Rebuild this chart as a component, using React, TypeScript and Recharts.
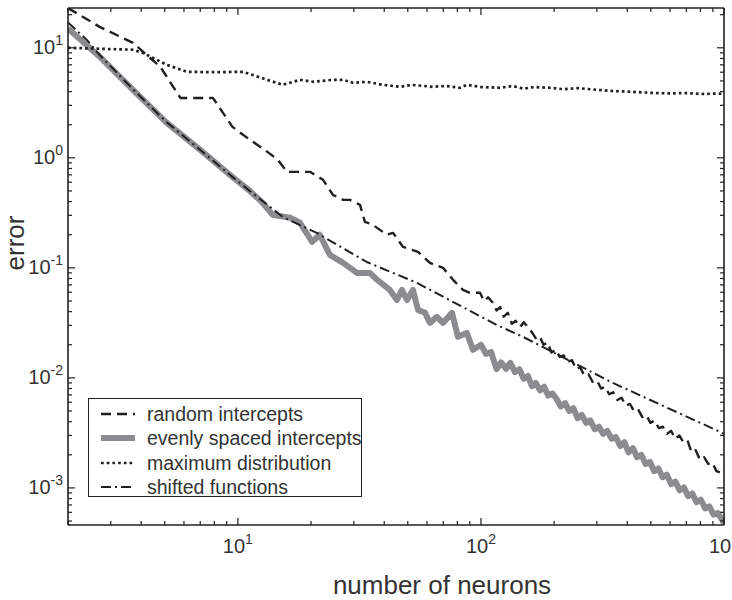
import { Label, Legend, Line, LineChart, XAxis, YAxis } from "recharts";

// [number of neurons, error]
const randomIntercepts: [number, number][] = [
  [2, 23], [2.7, 15.5], [3.7, 11.1], [4.8, 6.7], [5.8, 3.5], [7.9, 3.5], [9.5, 1.91],
  [11.2, 1.46], [12.9, 1.18], [14.6, 0.96], [15.9, 0.746], [19.8, 0.746], [22.4, 0.631],
  [24.6, 0.461], [27.1, 0.415], [28.9, 0.415], [31.8, 0.374], [33.3, 0.262], [35.9, 0.246],
  [41, 0.2], [43.5, 0.208], [47.8, 0.155], [55.1, 0.14], [61.7, 0.111], [69.8, 0.1],
  [76.8, 0.0778], [84.3, 0.0631], [90.1, 0.0593], [99.1, 0.0593], [103, 0.05], [107, 0.054],
  [112, 0.0481], [116, 0.041], [120, 0.044], [124, 0.036], [129, 0.039], [134, 0.031],
  [139, 0.033], [145, 0.029], [150, 0.032], [156, 0.029], [162, 0.026], [168, 0.023],
  [174, 0.024], [181, 0.02], [188, 0.021], [195, 0.017], [203, 0.018], [211, 0.0155],
  [219, 0.016], [228, 0.014], [237, 0.0145], [246, 0.012], [256, 0.0125], [266, 0.0105],
  [277, 0.0108], [288, 0.0092], [300, 0.0095], [312, 0.008], [324, 0.0083], [337, 0.0071],
  [350, 0.0074], [364, 0.0063], [379, 0.0066], [394, 0.0056], [410, 0.0058], [426, 0.005],
  [443, 0.0052], [461, 0.0044], [479, 0.0046], [498, 0.0039], [518, 0.0041], [539, 0.0035],
  [560, 0.0036], [583, 0.0031], [606, 0.0033], [630, 0.0028], [655, 0.003], [681, 0.0026],
  [708, 0.0027], [736, 0.0021], [765, 0.0022], [796, 0.0018], [828, 0.0019], [861, 0.00165],
  [895, 0.0017], [931, 0.00142], [968, 0.00138], [1000, 0.00126],
];

const evenlySpaced: [number, number][] = [
  [2, 15], [2.7, 8.3], [3.7, 4.15], [5.1, 2.08], [7, 1.18], [9.5, 0.67], [11.2, 0.5],
  [12.5, 0.4], [13.9, 0.303], [16.4, 0.285], [18, 0.257], [20.2, 0.172], [21.7, 0.2],
  [23.9, 0.131], [27.1, 0.111], [30.9, 0.09], [34.9, 0.09], [37.3, 0.078], [42.2, 0.063],
  [45.1, 0.051], [47.3, 0.063], [49.6, 0.051], [52.5, 0.063], [55.1, 0.0415], [58.9, 0.039],
  [61.7, 0.0316], [65.9, 0.0359], [69.8, 0.0316], [76, 0.039], [80.4, 0.0236], [87.5, 0.0256],
  [92.7, 0.018], [100, 0.02], [105, 0.0165], [110, 0.0172], [116, 0.012], [121, 0.0138],
  [127, 0.0121], [132, 0.0137], [138, 0.0113], [144, 0.012], [150, 0.0098], [156, 0.0104],
  [162, 0.0084], [168, 0.009], [175, 0.0077], [182, 0.0083], [189, 0.0069], [197, 0.0072],
  [205, 0.0064], [213, 0.0055], [222, 0.0059], [231, 0.005], [240, 0.0053], [250, 0.0043],
  [260, 0.0046], [271, 0.0039], [282, 0.0041], [294, 0.0034], [306, 0.0036], [318, 0.0031],
  [331, 0.0033], [345, 0.0028], [359, 0.0029], [374, 0.0024], [389, 0.0026], [405, 0.0021],
  [422, 0.0023], [439, 0.0019], [457, 0.002], [476, 0.00165], [496, 0.00172], [516, 0.00142],
  [537, 0.0015], [559, 0.00125], [582, 0.00132], [606, 0.00108], [631, 0.00114], [657, 0.00095],
  [684, 0.00101], [712, 0.00084], [741, 0.00089], [771, 0.00074], [803, 0.00078], [836, 0.00065],
  [870, 0.00068], [906, 0.00057], [943, 0.00059], [1000, 0.00048],
];

const maximumDistribution: [number, number][] = [
  [2, 10], [3.7, 9.6], [4.06, 9], [5.1, 7], [6.17, 6.05], [8, 6], [10.5, 6.05], [13.2, 5.12],
  [15.3, 4.61], [18, 5.12], [20.4, 4.91], [24.6, 5.12], [27.1, 5.12], [29.7, 4.81], [34, 4.9],
  [39.5, 4.61], [46.4, 4.42], [52, 4.6], [63.4, 4.42], [72, 4.5], [82, 4.33], [87.5, 4.61],
  [100, 4.4], [120, 4.33], [135, 4.5], [150, 4.25], [165, 4.4], [192, 4.33], [220, 4.2],
  [250, 4.3], [300, 4.15], [350, 4.05], [400, 4], [496, 3.9], [600, 3.85], [700, 3.88],
  [800, 3.8], [900, 3.83], [1000, 3.82],
];

const shiftedFunctions: [number, number][] = [
  [2, 17], [2.39, 11.8], [2.7, 8.6], [3.7, 4.2], [5.1, 2.1], [7, 1.18], [9.5, 0.67],
  [11.2, 0.5], [15.3, 0.29], [21.1, 0.208], [33.9, 0.113], [54.5, 0.0731], [116, 0.0303],
  [149, 0.0236], [349, 0.009], [963, 0.00323], [1000, 0.0031],
];

const X_TICKS = [2, 3, 4, 5, 6, 7, 8, 9, 10, 20, 30, 40, 50, 60, 70, 80, 90, 100, 200, 300, 400, 500, 600, 700, 800, 900, 1000];
const Y_TICKS = [
  0.0005, 0.0006, 0.0007, 0.0008, 0.0009, 0.001, 0.002, 0.003, 0.004, 0.005, 0.006, 0.007, 0.008, 0.009,
  0.01, 0.02, 0.03, 0.04, 0.05, 0.06, 0.07, 0.08, 0.09, 0.1, 0.2, 0.3, 0.4, 0.5, 0.6, 0.7, 0.8, 0.9,
  1, 2, 3, 4, 5, 6, 7, 8, 9, 10, 20,
];

const INK = "#202020";
const TEXT = "#333333";
const FONT = "'Liberation Sans', Arial, sans-serif";

const SERIES = [
  { name: "random intercepts", data: randomIntercepts, stroke: INK, width: 2.4, dash: "10 6" },
  { name: "evenly spaced intercepts", data: evenlySpaced, stroke: "#8b8c90", width: 6, dash: undefined },
  { name: "maximum distribution", data: maximumDistribution, stroke: INK, width: 2.7, dash: "2.7 3" },
  { name: "shifted functions", data: shiftedFunctions, stroke: INK, width: 2, dash: "10 4 2 4" },
];
// gray line drawn first so the dash-dot sits on top of it
const DRAW_ORDER = [1, 0, 2, 3];

const toRows = (pts: [number, number][]) => pts.map(([n, v]) => ({ n, v }));

const isDecade = (v: number) => Math.abs(Math.log10(v) - Math.round(Math.log10(v))) < 1e-6;

function AxisTick(props: any) {
  const { x, y, payload, side, showLabel } = props;
  const v = payload.value;
  const major = isDecade(v);
  const len = major ? 7 : 4;
  const exp = Math.round(Math.log10(v));
  let line;
  if (side === "bottom") line = <line x1={x} y1={y} x2={x} y2={y - len} />;
  else if (side === "top") line = <line x1={x} y1={y} x2={x} y2={y + len} />;
  else if (side === "left") line = <line x1={x} y1={y} x2={x + len} y2={y} />;
  else line = <line x1={x} y1={y} x2={x - len} y2={y} />;

  let label = null;
  if (showLabel && major) {
    const sup = (
      <tspan dy={-9} fontSize={14}>
        {String(exp)}
      </tspan>
    );
    label =
      side === "bottom" ? (
        <text x={x} y={y + 28} textAnchor="middle" fill={TEXT} fontSize={20} fontFamily={FONT} stroke="none">
          <tspan>10</tspan>
          {sup}
        </text>
      ) : (
        <text x={x - 5} y={y + 6} textAnchor="end" fill={TEXT} fontSize={20} fontFamily={FONT} stroke="none">
          <tspan>10</tspan>
          {sup}
        </text>
      );
  }
  return (
    <g stroke={INK} strokeWidth={1.2}>
      {line}
      {label}
    </g>
  );
}

function LegendBox() {
  return (
    <div
      style={{
        width: 274,
        height: 99,
        boxSizing: "border-box",
        border: `1.6px solid ${INK}`,
        background: "#fff",
        paddingTop: 3,
        fontFamily: FONT,
        fontSize: 19.5,
        color: TEXT,
        overflow: "hidden",
      }}
    >
      {SERIES.map((s) => (
        <div key={s.name} style={{ display: "flex", alignItems: "center", height: 24.3 }}>
          <svg width={58} height={24} style={{ flex: "none" }}>
            <line
              x1={12}
              y1={12}
              x2={46}
              y2={12}
              stroke={s.stroke}
              strokeWidth={s.width}
              strokeDasharray={s.dash}
            />
          </svg>
          <span style={{ whiteSpace: "nowrap", lineHeight: "24px" }}>{s.name}</span>
        </div>
      ))}
    </div>
  );
}

const axisLine = { stroke: INK, strokeWidth: 1.6 };

export default function App() {
  return (
    <div style={{ position: "absolute", left: 0, top: 0, background: "#fff" }}>
      <LineChart width={732} height={600} margin={{ top: 0, right: 0, bottom: 0, left: 0 }}>
        <XAxis
          dataKey="n"
          type="number"
          scale="log"
          domain={[2, 1000]}
          allowDataOverflow
          ticks={X_TICKS}
          interval={0}
          height={75}
          tickSize={0}
          tickMargin={0}
          tickLine={false}
          axisLine={axisLine}
          tick={(p: any) => <AxisTick {...p} side="bottom" showLabel />}
        >
          <Label
            content={() => (
              <text x={442} y={594} textAnchor="middle" fill={TEXT} fontSize={26} fontFamily={FONT}>
                number of neurons
              </text>
            )}
          />
        </XAxis>
        <XAxis
          xAxisId="top"
          orientation="top"
          dataKey="n"
          type="number"
          scale="log"
          domain={[2, 1000]}
          allowDataOverflow
          ticks={X_TICKS}
          interval={0}
          height={8}
          tickSize={0}
          tickMargin={0}
          tickLine={false}
          axisLine={axisLine}
          tick={(p: any) => <AxisTick {...p} side="top" />}
        />
        <YAxis
          type="number"
          scale="log"
          domain={[4.6e-4, 23]}
          allowDataOverflow
          ticks={Y_TICKS}
          interval={0}
          width={68}
          tickSize={0}
          tickMargin={0}
          tickLine={false}
          axisLine={axisLine}
          tick={(p: any) => <AxisTick {...p} side="left" showLabel />}
        >
          <Label
            content={() => (
              <text
                x={24}
                y={243}
                transform="rotate(-90 24 243)"
                textAnchor="middle"
                fill={TEXT}
                fontSize={26}
                fontFamily={FONT}
              >
                error
              </text>
            )}
          />
        </YAxis>
        <YAxis
          yAxisId="right"
          orientation="right"
          type="number"
          scale="log"
          domain={[4.6e-4, 23]}
          allowDataOverflow
          ticks={Y_TICKS}
          interval={0}
          width={8}
          tickSize={0}
          tickMargin={0}
          tickLine={false}
          axisLine={axisLine}
          tick={(p: any) => <AxisTick {...p} side="right" />}
        />
        {DRAW_ORDER.map((i) => {
          const s = SERIES[i];
          return (
            <Line
              key={s.name}
              name={s.name}
              data={toRows(s.data)}
              dataKey="v"
              type="linear"
              stroke={s.stroke}
              strokeWidth={s.width}
              strokeDasharray={s.dash}
              strokeLinejoin="round"
              dot={false}
              activeDot={false}
              isAnimationActive={false}
            />
          );
        })}
        <Legend
          layout="horizontal"
          align="center"
          verticalAlign="middle"
          wrapperStyle={{ left: 88, top: 398, width: 274, height: 99 }}
          content={() => <LegendBox />}
        />
      </LineChart>
    </div>
  );
}
